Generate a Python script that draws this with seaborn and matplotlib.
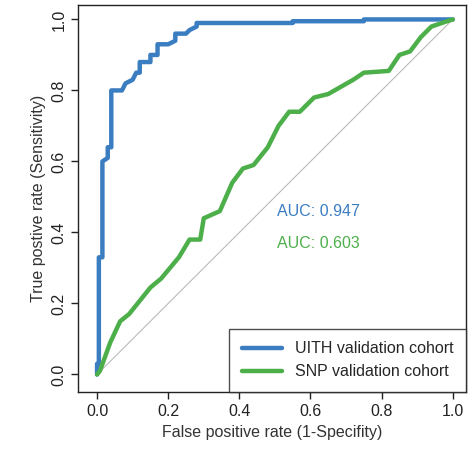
import matplotlib
matplotlib.use("Agg")
import matplotlib.pyplot as plt
import seaborn as sns
import pandas as pd

uith_fpr = [0,0,0.005,0.005,0.015,0.015,0.03,0.03,0.04,0.04,0.07,0.08,0.10,0.11,0.12,0.12,0.15,0.15,0.17,0.17,0.20,0.22,0.22,0.25,0.26,0.28,0.28,0.55,0.55,0.75,0.75,1.0]
uith_tpr = [0,0.03,0.03,0.33,0.33,0.60,0.61,0.64,0.64,0.80,0.80,0.82,0.83,0.85,0.85,0.88,0.88,0.90,0.90,0.93,0.93,0.94,0.96,0.96,0.97,0.98,0.99,0.99,0.995,0.995,1.0,1.0]
snp_fpr = [0,0.008,0.037,0.065,0.09,0.15,0.18,0.23,0.26,0.29,0.30,0.345,0.38,0.41,0.44,0.48,0.51,0.54,0.57,0.61,0.65,0.72,0.75,0.82,0.85,0.88,0.91,0.94,0.99,1.0]
snp_tpr = [0,0.01,0.09,0.15,0.17,0.245,0.27,0.33,0.38,0.38,0.44,0.46,0.54,0.58,0.59,0.64,0.70,0.74,0.74,0.78,0.79,0.83,0.85,0.855,0.90,0.91,0.95,0.98,0.997,1.0]
labels = ["UITH validation cohort", "SNP validation cohort"]
aucs = ["AUC: 0.947", "AUC: 0.603"]
blue, green = "#3A7DC1", "#4DAF4A"

sns.set_style("white")
plt.rcParams['font.family'] = ['Liberation Sans', 'DejaVu Sans']
fig = plt.figure(figsize=(4.74, 4.76), dpi=100)
ax = fig.add_axes([0.165, 0.176, 0.818, 0.813])
ax.plot([0, 1], [0, 1], color="#BBBBBB", lw=0.8)
df1 = pd.DataFrame({"fpr": uith_fpr, "tpr": uith_tpr})
df2 = pd.DataFrame({"fpr": snp_fpr, "tpr": snp_tpr})
sns.lineplot(data=df1, x="fpr", y="tpr", sort=False, estimator=None, color=blue, lw=3.2, label=labels[0], ax=ax)
sns.lineplot(data=df2, x="fpr", y="tpr", sort=False, estimator=None, color=green, lw=3.2, label=labels[1], ax=ax)
ax.set_xlim(-0.053, 1.037)
ax.set_ylim(-0.05, 1.04)
ax.set_xticks([0, 0.2, 0.4, 0.6, 0.8, 1.0])
ax.set_yticks([0, 0.2, 0.4, 0.6, 0.8, 1.0])
ax.set_xticklabels(["0.0", "0.2", "0.4", "0.6", "0.8", "1.0"])
ax.set_yticklabels(["0.0", "0.2", "0.4", "0.6", "0.8", "1.0"], rotation=90, va="center")
ax.tick_params(direction="out", length=5, width=1, colors="#222222", labelsize=11.5, bottom=True, left=True)
for s in ax.spines.values():
    s.set_color("#222222"); s.set_linewidth(1)
ax.set_xlabel("False positive rate (1-Specifity)", fontsize=11.5, color="#333333")
ax.set_ylabel("True postive rate (Sensitivity)", fontsize=11.5, color="#333333")
ax.text(0.505, 0.46, aucs[0], color=blue, fontsize=11.5, va="center")
ax.text(0.505, 0.37, aucs[1], color=green, fontsize=11.5, va="center")
leg = ax.legend(loc="lower right", frameon=True, fancybox=False, fontsize=11.5,
                handlelength=2.5, borderaxespad=0, edgecolor="#222222", borderpad=0.8)
leg.get_frame().set_linewidth(1)
fig.savefig("out.png", dpi=100)
